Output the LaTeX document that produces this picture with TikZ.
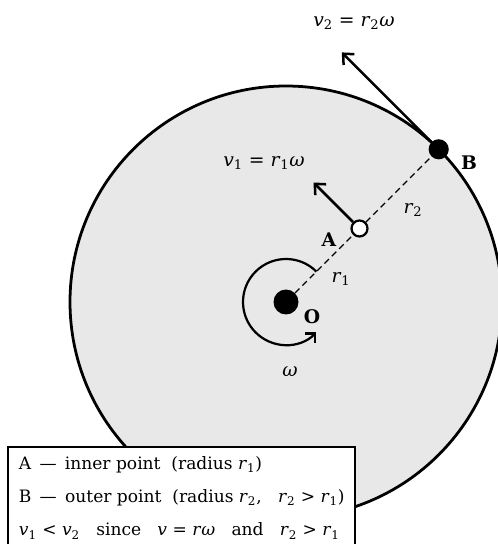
\documentclass[tikz,border=0pt]{standalone}
\usepackage{fontspec}
\setmainfont{DejaVu Serif}
\usepackage{tikz}
\usetikzlibrary{arrows.meta}

\definecolor{diskgray}{HTML}{E8E8E8}
\newcommand{\velo}[1]{\textit{v}\textsubscript{#1}}
\newcommand{\rad}[1]{\textit{r}\textsubscript{#1}}
\newcommand{\om}{\textit{ω}}

\begin{document}
\begin{tikzpicture}[x=0.72pt, y=0.72pt,
        font=\fontsize{13.5}{16}\selectfont,
        vel/.style={line width=1.8pt, -{Straight Barb[length=6pt, width=11pt, line width=1.8pt]}},
        bigdot/.style={circle, fill=black, inner sep=0pt},
        legtext/.style={anchor=west, font=\fontsize{12.3}{15}\selectfont}]
        \useasboundingbox (0, 0) rectangle (498, 544);
        \clip (0, 0) rectangle (498, 544);

        % Rotating disk
        \draw[fill=diskgray, line width=2pt] (286, 242) circle[radius=216];

        % Points
        \node[bigdot, minimum size=18pt] (O) at (286, 242) {};
        \node[circle, draw, fill=white, line width=1.6pt, inner sep=0pt, minimum size=11.5pt] (A) at (359.5, 315.5) {};
        \node[bigdot, minimum size=14.5pt] (B) at (438.7, 394.7) {};
        \coordinate (vA) at (313.5, 361.5);
        \coordinate (vB) at (341.8, 491.6);

        % Radii
        \draw[dashed, line width=1pt, dash pattern=on 4.5pt off 3pt] (O) -- (A);
        \draw[dashed, line width=1pt, dash pattern=on 4.5pt off 3pt] (A) -- (B);

        % Velocity vectors (tangent)
        \draw[vel] (A) -- (vA);
        \draw[vel] (B) -- (vB);

        % Angular velocity
        \draw[line width=1.6pt, -{Straight Barb[length=5pt, width=10pt, line width=1.6pt]}]
            ([shift={(45:43)}]O.center) arc[start angle=45, end angle=315, radius=43];

        % Labels
        \node (labO) at (312, 227) {\textbf{O}};
        \node (labA) at (329, 304) {\textbf{A}};
        \node (labB) at (469, 381) {\textbf{B}};
        \node (labr1) at (341, 265) {\rad{1}};
        \node (labr2) at (413, 334) {\rad{2}};
        \node (labv1) at (264, 381) {\velo{1} = \rad{1}\om};
        \node (labv2) at (354, 521) {\velo{2} = \rad{2}\om};
        \node (labw) at (290, 172) {\om};

        % Legend
        \draw[fill=white, line width=1.2pt] (8, 97) rectangle (355, -10);
        \node[legtext] (leg1) at (14, 79) {A\, —\, inner point\ \ (radius \rad{1})};
        \node[legtext] (leg2) at (14, 46) {B\, —\, outer point\ \ (radius \rad{2},\ \ \ \rad{2} > \rad{1})};
        \node[legtext] (leg3) at (14, 13) {\velo{1} < \velo{2}\ \ \ since\ \ \ \textit{v} = \textit{r}\om\ \ \ and\ \ \ \rad{2} > \rad{1}};
\end{tikzpicture}
\end{document}
